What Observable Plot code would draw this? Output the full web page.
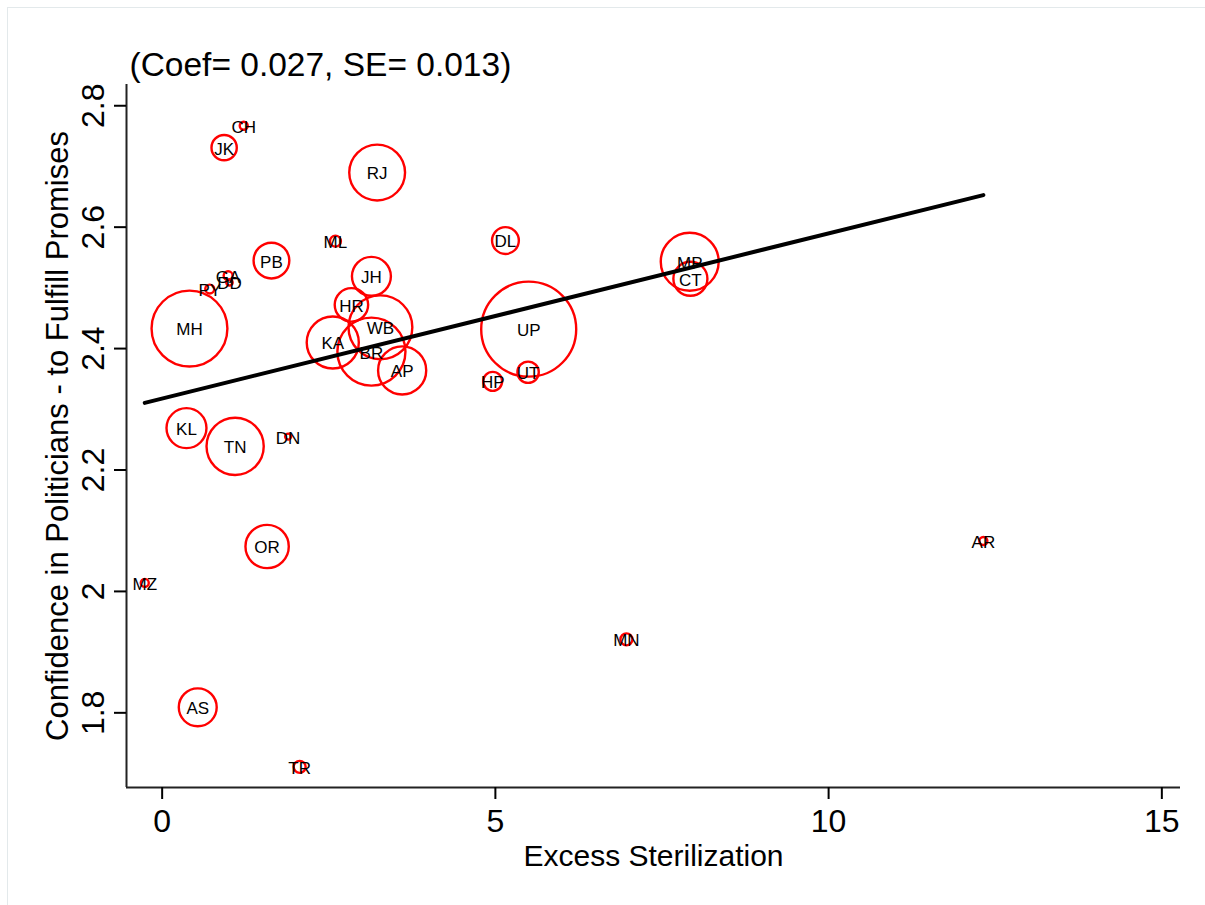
<!DOCTYPE html>
<html>
<head>
<meta charset="utf-8">
<script src="https://cdn.jsdelivr.net/npm/d3@7"></script>
<script src="https://cdn.jsdelivr.net/npm/@observablehq/plot@0.6"></script>
<style>
html, body { margin: 0; padding: 0; background: #fff; overflow: hidden; }
#frame { position: absolute; left: 7px; top: 7px; width: 1210px; height: 910px;
  border-left: 1px solid #e3e9eb; border-top: 1px solid #e3e9eb; pointer-events: none; }
#chart { position: absolute; left: 0; top: 0; }
</style>
</head>
<body>
<div id="chart"></div>
<div id="frame"></div>
<script>
// ---- data ----
const states = ["CH","JK","RJ","ML","PB","GA","DD","PY","JH","MH","HR","WB","KA","BR","AP",
                "DL","MP","CT","UP","UT","HP","KL","TN","DN","OR","MZ","AS","TR","MN","AR"];
const excessSterilization = [1.224, 0.930, 3.226, 2.600, 1.640, 0.990, 1.010, 0.714, 3.140, 0.410,
                             2.840, 3.275, 2.560, 3.140, 3.601, 5.151, 7.916, 7.926, 5.500, 5.491,
                             4.960, 0.365, 1.095, 1.890, 1.575, -0.261, 0.534, 2.063, 6.966, 12.322];
const confidence = [2.767, 2.731, 2.690, 2.577, 2.545, 2.520, 2.509, 2.498, 2.519, 2.433,
                    2.472, 2.435, 2.410, 2.395, 2.364, 2.578, 2.543, 2.515, 2.432, 2.361,
                    2.346, 2.269, 2.239, 2.255, 2.074, 2.014, 1.809, 1.711, 1.921, 2.083];
const sampleWeight = [1.6, 16, 78, 3, 32, 2, 1, 2, 38, 144,
                      28, 102, 68, 116, 58, 18, 84, 29, 226, 11.4,
                      9, 40, 82, 0.9, 47, 1.6, 36, 3.6, 3.6, 1.6];
const xTicks = [0, 5, 10, 15];
const yTicks = [1.8, 2, 2.2, 2.4, 2.6, 2.8];
const fitIntercept = 2.3177;
const fitSlope = 0.0272;
const titleText = "(Coef= 0.027, SE= 0.013)";
const xTitle = "Excess Sterilization";
const yTitle = "Confidence in Politicians - to Fulfill Promises";

// ---- derived tables ----
const data = states.map((s, i) => ({state: s, x: excessSterilization[i], y: confidence[i], w: sampleWeight[i]}));
const fit = d3.extent(excessSterilization).map(x => ({x, y: fitIntercept + fitSlope * x}));
const xDomain = [-0.535, 15.28];
const yDomain = [1.677, 2.835];

const chart = Plot.plot({
  width: 1205,
  height: 905,
  marginLeft: 126,
  marginRight: 25,
  marginTop: 84,
  marginBottom: 118,
  style: {fontFamily: "'Liberation Sans', Arial, Helvetica, sans-serif", background: "white", color: "black"},
  x: {domain: xDomain},
  y: {domain: yDomain},
  r: {type: "sqrt", domain: [0, 226], range: [0, 47.5]},
  marks: [
    Plot.ruleX([xDomain[0]], {stroke: "#222", strokeWidth: 2}),
    Plot.ruleY([yDomain[0]], {stroke: "#222", strokeWidth: 2}),
    Plot.axisX({ticks: xTicks, tickSize: 12, tickPadding: 10, fontSize: 32, strokeWidth: 2, label: null, tickFormat: d => String(d)}),
    Plot.axisY({ticks: yTicks, tickSize: 12, tickPadding: 11, tickRotate: -90, fontSize: 32, strokeWidth: 2, label: null,
                tickFormat: d => String(+d.toFixed(1))}),
    Plot.dot(data, {x: "x", y: "y", r: "w", stroke: "#ff0000", strokeWidth: 2.4, fill: "none"}),
    Plot.text(data, {x: "x", y: "y", text: "state", fontSize: 17, dy: 1.5, fill: "black"}),
    Plot.line(fit, {x: "x", y: "y", stroke: "black", strokeWidth: 4, strokeLinecap: "round"}),
    Plot.text([titleText], {text: d => d, frameAnchor: "top-left", textAnchor: "start", lineAnchor: "middle", dx: 3, dy: -19, fontSize: 33.5, fill: "black"}),
    Plot.text([xTitle], {text: d => d, frameAnchor: "bottom", textAnchor: "middle", lineAnchor: "middle", dy: 69, fontSize: 30, fill: "black"}),
    Plot.text([yTitle], {text: d => d, frameAnchor: "left", textAnchor: "middle", lineAnchor: "middle", rotate: -90, dx: -68, fontSize: 31, fill: "black"})
  ]
});
document.getElementById("chart").appendChild(chart);
</script>
</body>
</html>
